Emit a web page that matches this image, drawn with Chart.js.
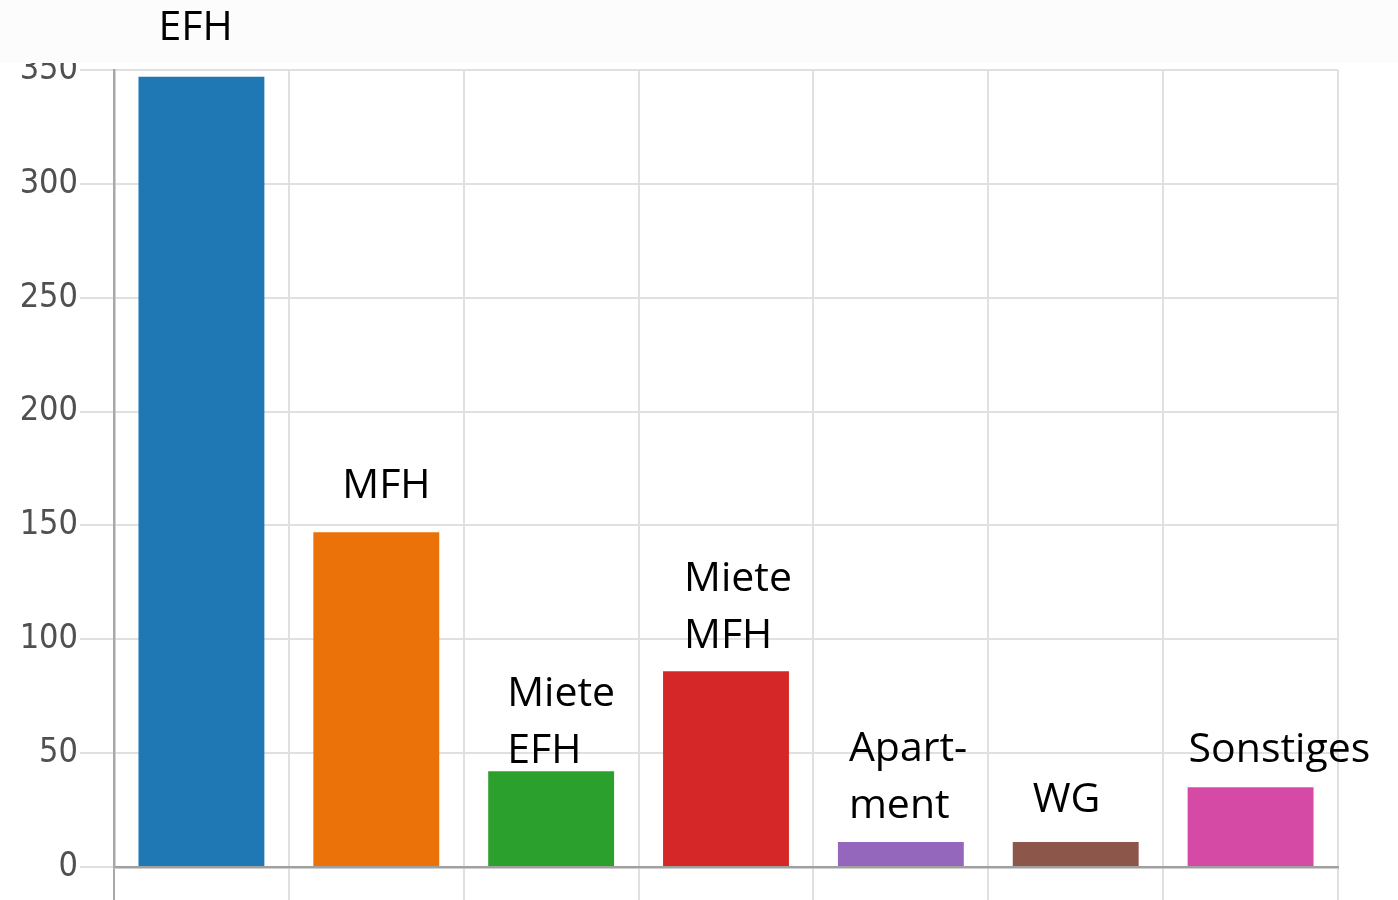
<!DOCTYPE html>
<html>
<head>
<meta charset="utf-8">
<script src="https://cdn.jsdelivr.net/npm/chart.js@4.4.1/dist/chart.umd.min.js"></script>
<style>
  html, body { margin: 0; padding: 0; background: #fff; }
  canvas { display: block; }
</style>
</head>
<body>
<canvas id="typesChart" width="1398" height="900"></canvas>
<script>
// categories and values
const categories = ["EFH", "MFH", "Miete EFH", "Miete MFH", "Apartment", "WG", "Sonstiges"];
const counts = [347, 147, 42, 86, 11, 11, 35];
const barLabels = [["EFH"], ["MFH"], ["Miete", "EFH"], ["Miete", "MFH"], ["Apart-", "ment"], ["WG"], ["Sonstiges"]];
const yTicks = [0, 50, 100, 150, 200, 250, 300, 350];

const barColors = ["#1f77b4", "#ea7209", "#2ca02c", "#d62728", "#9467bd", "#8c564b", "#d44aa5"];

// hand placed labels: shift from bar left edge, gap from last baseline to bar top
const labelDx = [20, 29, 19, 21, 11, 20, 1];
const labelGap = [37, 34, 8, 23, 24, 30, 25];
const lineHeight = 57;

const labelPlugin = {
	id: "barLabels",
	afterDraw(chart) {
		const ctx = chart.ctx;
		ctx.save();
		// grey band across the top, covers part of the 350 tick
		ctx.fillStyle = "#fcfcfc";
		ctx.fillRect(0, 0, chart.width, 63);

		ctx.fillStyle = "#000";
		ctx.font = "41px 'Open Sans', 'Noto Sans', sans-serif";
		ctx.textAlign = "left";
		ctx.textBaseline = "alphabetic";
		const meta = chart.getDatasetMeta(0);
		meta.data.forEach((bar, i) => {
			const lines = barLabels[i];
			const left = bar.x - bar.width / 2 + labelDx[i];
			lines.forEach((txt, k) => {
				const y = bar.y - labelGap[i] - (lines.length - 1 - k) * lineHeight;
				ctx.fillText(txt, left, y);
			});
		});
		ctx.restore();
	},
};

const ctx = document.getElementById("typesChart");
new Chart(ctx, {
	type: "bar",
	data: {
		labels: categories,
		datasets: [
			{
				data: counts,
				backgroundColor: barColors,
				borderWidth: 0,
				barPercentage: 0.9,
				categoryPercentage: 0.8,
			},
		],
	},
	options: {
		responsive: false,
		animation: false,
		layout: { padding: { top: 70, right: 60, left: 0, bottom: 0 } },
		plugins: {
			legend: { display: false },
			tooltip: { enabled: false },
		},
		scales: {
			x: {
				grid: {
					color: (c) => (c.index === 0 ? "#a8a8a8" : "#e0e0e0"),
					lineWidth: 2,
					tickLength: 33,
					offset: true,
				},
				border: { color: "#a0a0a0", width: 2.5 },
				ticks: { display: false },
				afterFit: (scale) => {
					scale.height = 33;
				},
			},
			y: {
				min: 0,
				max: 350,
				afterBuildTicks: (scale) => {
					scale.ticks = yTicks.map((v) => ({ value: v }));
				},
				grid: { color: "#e0e0e0", lineWidth: 2, tickLength: 34 },
				border: { color: "#a8a8a8", width: 2.5 },
				ticks: {
					padding: 2,
					color: "#505050",
					font: { family: "'DejaVu Sans Condensed', 'Open Sans', sans-serif", size: 34 },
				},
				afterFit: (scale) => {
					scale.width = 114;
				},
			},
		},
	},
	plugins: [labelPlugin],
});
</script>
</body>
</html>
